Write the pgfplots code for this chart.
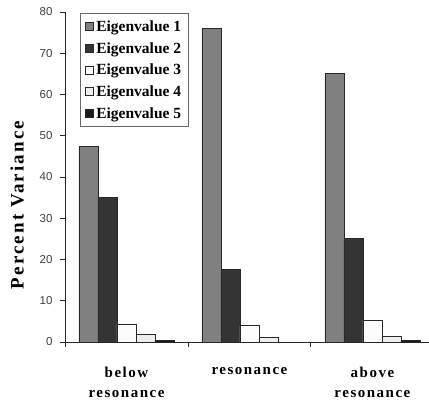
\documentclass[border=0pt]{standalone}
\usepackage{pgfplots}
\pgfplotsset{compat=1.18}
\usepackage{fontspec}
\setmainfont{Liberation Serif}
\newfontfamily\ticksf{Liberation Sans}
\newfontfamily\catfont[LetterSpace=10]{Liberation Serif}
\newfontfamily\labfont[LetterSpace=11]{Liberation Serif}

\definecolor{evone}{RGB}{128,128,128}
\definecolor{evtwo}{RGB}{52,52,52}
\definecolor{evthree}{RGB}{252,252,252}
\definecolor{evfour}{RGB}{238,238,238}
\definecolor{evfive}{RGB}{26,26,26}
\definecolor{edge}{RGB}{40,40,40}

\begin{document}
\begin{tikzpicture}
\useasboundingbox (-65pt,-63pt) rectangle (364pt,342pt);
\begin{axis}[
  at={(0,0)}, anchor=south west,
  scale only axis, width=364pt, height=330pt,
  ybar=0pt, bar width=19pt,
  xmin=-0.5, xmax=2.46, ymin=0, ymax=80,
  axis x line*=bottom, axis y line*=left,
  axis line style={draw=edge, line width=0.9pt},
  xtick={0,1,2},
  xticklabels={below\\resonance, resonance, above\\resonance},
  major x tick style={draw=none},
  minor xtick={-0.5,0.5,1.5},
  minor x tick style={draw=edge, line width=0.9pt},
  minor tick length=5pt,
  xticklabel style={font=\catfont\bfseries\fontsize{15}{20}\selectfont, align=center, anchor=north, yshift=-17pt},
  ytick={0,10,...,80},
  tick align=outside,
  major tick length=5pt,
  y tick style={draw=edge, line width=0.9pt},
  yticklabel style={font=\ticksf\fontsize{11.5}{12}\selectfont, text=black!75, xshift=-4pt},
  /pgf/number format/assume math mode=true,
  ylabel={\labfont\bfseries\fontsize{19}{20}\selectfont Percent Variance},
  ylabel style={at={(ticklabel cs:0.415)}, anchor=south, yshift=9pt},
  legend style={at={(15pt,329pt)}, anchor=north west, draw=edge!70, line width=1pt,
    font=\bfseries\fontsize{15.5}{16}\selectfont, inner xsep=5pt, inner ysep=5pt,
    row sep=5.5pt, cells={anchor=west}},
  legend image code/.code={\draw[#1, draw=edge, line width=0.8pt] (3pt,-4pt) rectangle (11pt,4pt);},
  every axis plot/.append style={draw=edge, line width=0.8pt},
]
\addplot[fill=evone] coordinates {(0,47.3) (1,76) (2,65)};
\addplot[fill=evtwo] coordinates {(0,35) (1,17.5) (2,25)};
\addplot[fill=evthree] coordinates {(0,4.3) (1,4) (2,5.3)};
\addplot[fill=evfour] coordinates {(0,1.9) (1,1) (2,1.3)};
\addplot[fill=evfive] coordinates {(0,0.4) (1,0) (2,0.4)};
\legend{Eigenvalue 1, Eigenvalue 2, Eigenvalue 3, Eigenvalue 4, Eigenvalue 5}
\end{axis}
\end{tikzpicture}
\end{document}
